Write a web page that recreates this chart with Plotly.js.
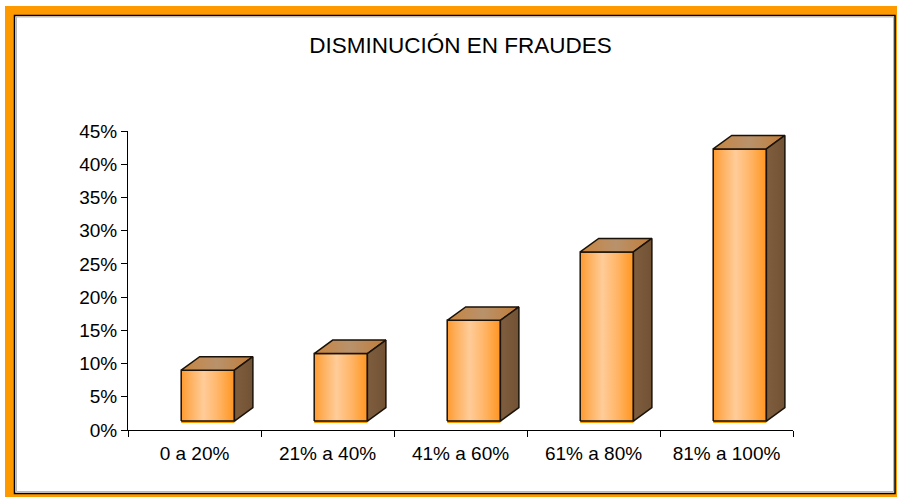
<!DOCTYPE html>
<html>
<head>
<meta charset="utf-8">
<script src="https://cdn.plot.ly/plotly-3.0.1.min.js"></script>
<style>
  html, body { margin: 0; padding: 0; background: #ffffff; }
  #chart { width: 897px; height: 497px; }
</style>
</head>
<body>
<div id="chart"></div>
<script>
// ---- data ----
const categories = ['0 a 20%', '21% a 40%', '41% a 60%', '61% a 80%', '81% a 100%'];
const values = [9.0, 11.5, 16.5, 26.8, 42.3];          // percent
const yTickVals = [0, 5, 10, 15, 20, 25, 30, 35, 40, 45];
const chartTitle = 'DISMINUCIÓN EN FRAUDES';

// ---- style constants (3D look) ----
const FLOOR = 1.35;   // lift of the front face above 0 (y units)
const OFF = 0.1;      // shift of front face center from category center
const W = 0.4;        // front face width (x units)
const DX = 0.139;     // depth in x
const DY = 2.03;      // depth in y
const EDGE = '#1a1208';

const FONT = 'Liberation Sans, Arial, Helvetica, sans-serif';

const traces = [];

// base bar (gives the thin orange rim under the front face)
traces.push({
  type: 'bar',
  x: categories.map((c, i) => i),
  y: values.map(v => v - FLOOR + 0.3),
  base: values.map(() => FLOOR - 0.3),
  width: W,
  offset: OFF - W / 2,
  marker: { color: '#FF9900', line: { width: 0 } },
  hoverinfo: 'skip',
  showlegend: false
});

values.forEach((v, i) => {
  const xl = i + OFF - W / 2, xr = i + OFF + W / 2;
  // front face
  traces.push({
    type: 'scatter', mode: 'lines',
    x: [xl, xr, xr, xl, xl],
    y: [FLOOR, FLOOR, v, v, FLOOR],
    fill: 'toself',
    fillgradient: {
      type: 'horizontal',
      colorscale: [[0, '#FF9A30'], [0.15, '#FFAE58'], [0.42, '#FFCC99'], [0.72, '#FFB362'], [1, '#FF9520']]
    },
    line: { color: EDGE, width: 1.5 },
    hoverinfo: 'skip', showlegend: false
  });
  // top face
  traces.push({
    type: 'scatter', mode: 'lines',
    x: [xl, xr, xr + DX, xl + DX, xl],
    y: [v, v, v + DY, v + DY, v],
    fill: 'toself',
    fillgradient: {
      type: 'horizontal',
      colorscale: [[0, '#C9843E'], [0.5, '#B8926C'], [1, '#C27C36']]
    },
    line: { color: EDGE, width: 1.5 },
    hoverinfo: 'skip', showlegend: false
  });
  // side face
  traces.push({
    type: 'scatter', mode: 'lines',
    x: [xr, xr + DX, xr + DX, xr, xr],
    y: [FLOOR, FLOOR + DY, v + DY, v, FLOOR],
    fill: 'toself',
    fillgradient: {
      type: 'horizontal',
      colorscale: [[0, '#7E5E3E'], [1, '#725234']]
    },
    line: { color: EDGE, width: 1.5 },
    hoverinfo: 'skip', showlegend: false
  });
});

// ---- frame (pixel -> paper helpers) ----
const L = 128, R = 104, T = 131, B = 67, WID = 897, HEI = 497;
const pw = WID - L - R, ph = HEI - T - B;
const px = p => (p - L) / pw;
const py = p => (HEI - B - p) / ph;

const shapes = [
  { type: 'rect', xref: 'paper', yref: 'paper', layer: 'below',
    x0: px(5), x1: px(900), y0: py(6), y1: py(500),
    fillcolor: '#FF9900', line: { width: 0 } },
  { type: 'rect', xref: 'paper', yref: 'paper', layer: 'below',
    x0: px(14.5), x1: px(895), y0: py(15.5), y1: py(493.5),
    fillcolor: '#FFFFFF', line: { color: '#000000', width: 1.5 } },
  { type: 'rect', xref: 'paper', yref: 'paper', layer: 'below',
    x0: px(16.5), x1: px(893.5), y0: py(17), y1: py(491.5),
    fillcolor: 'rgba(0,0,0,0)', line: { color: '#B8B8B8', width: 1 } }
];

const layout = {
  width: WID, height: HEI,
  margin: { l: L, r: R, t: T, b: B, pad: 0 },
  paper_bgcolor: '#FFFFFF',
  plot_bgcolor: 'rgba(0,0,0,0)',
  font: { family: FONT, color: '#000000', size: 19 },
  title: {
    text: chartTitle,
    font: { family: FONT, size: 22.5, color: '#000000' },
    x: 0.5, xref: 'paper', xanchor: 'center',
    y: 1 - 44.7 / HEI, yref: 'container', yanchor: 'middle'
  },
  showlegend: false,
  barmode: 'overlay',
  xaxis: {
    type: 'linear',
    range: [-0.5, categories.length - 0.5],
    tickvals: categories.map((c, i) => i),
    ticktext: categories,
    ticks: '',
    ticklabelstandoff: 6,
    tickfont: { family: FONT, size: 19, color: '#000000' },
    showline: true, linecolor: '#000000', linewidth: 1,
    showgrid: false, zeroline: false,
    minor: {
      tickvals: categories.map((c, i) => i - 0.5).concat([categories.length - 0.5]),
      ticks: 'outside', ticklen: 6, tickcolor: '#000000', tickwidth: 1, showgrid: false
    },
    fixedrange: true
  },
  yaxis: {
    range: [0, 45],
    tickvals: yTickVals,
    ticktext: yTickVals.map(v => v + '%'),
    ticks: 'outside', ticklen: 6, tickcolor: '#000000', tickwidth: 1,
    tickfont: { family: FONT, size: 19, color: '#000000' },
    showline: true, linecolor: '#000000', linewidth: 1,
    showgrid: false, zeroline: false,
    fixedrange: true
  },
  shapes: shapes
};

Plotly.newPlot('chart', traces, layout, { displayModeBar: false, staticPlot: true });
</script>
</body>
</html>
